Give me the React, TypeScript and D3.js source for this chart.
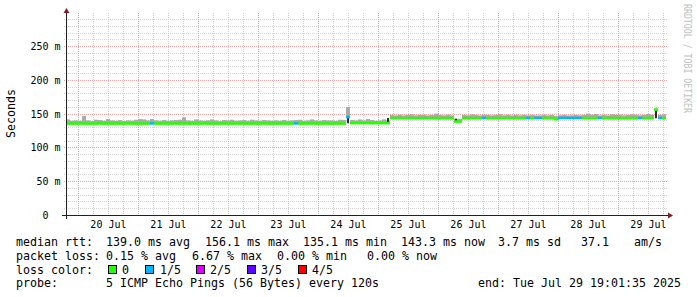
import React from 'react';
import * as d3 from 'd3';

// ---------- data ----------
const START = Date.UTC(2025, 6, 19, 19, 1, 35);
const END = Date.UTC(2025, 6, 29, 19, 1, 35);

// median rtt per time bucket (ms), 150 buckets over 10 days
const medianMs = [
  135.3,135.3,135.3,135.5,135.3,135.3,135.3,135.3,135.5,135.3,
  135.3,135.3,135.3,135.3,135.3,135.5,135.3,135.3,135.3,135.3,
  135.3,135.6,135.3,135.3,135.3,135.3,135.3,135.5,135.3,135.3,
  135.3,135.3,135.3,135.3,135.5,135.3,135.3,135.3,135.3,135.3,
  135.3,135.3,135.5,135.3,135.3,135.3,135.3,135.3,135.3,135.5,
  135.3,135.3,135.3,135.3,135.3,135.3,135.3,135.6,135.3,135.3,
  135.3,135.5,135.3,135.3,135.3,135.3,135.3,135.3,135.3,135.3,
  145.0,136.0,136.0,136.0,136.0,136.0,136.0,136.0,136.0,136.0,
  136.0,143.4,143.4,143.4,143.4,143.4,143.4,143.4,143.4,143.4,
  143.4,143.4,143.4,143.4,143.4,143.4,143.4,138.3,138.3,143.4,
  143.4,143.4,143.4,143.4,143.6,143.4,143.4,143.4,143.4,143.4,
  143.4,143.4,143.4,143.4,143.4,143.6,143.4,143.6,143.6,143.4,
  143.4,143.4,141.8,143.6,143.6,143.6,143.6,143.6,143.6,143.4,
  143.4,143.4,143.4,143.6,143.4,143.4,143.4,143.4,143.4,143.4,
  143.4,143.4,143.4,143.6,143.4,143.4,143.4,156.1,143.6,143.3,
];

// highest ping per bucket (ms) - the smoke
const smokeTopMs = [
  141.5,139.5,140,139.5,146.5,140,139,141,140.5,139.5,
  142,140,139.5,140.5,139,140,139.5,141,142,141.5,
  140,142,140,139.5,140.5,139.5,140,140.5,141,144.5,
  140,139.5,141.5,140,139.5,140,141.5,140,139,140.5,
  140,141,139.5,140,140.5,139.5,141,140,139.5,140.5,
  140,139.5,140,139.5,140.5,139.5,140,140.5,141,139.5,
  140,141.5,140,139.5,140.5,140,140,139.5,141,140.5,
  160,140.5,140,141.5,140,142,140.5,139.5,140,141.5,
  140,148,147.5,148.5,147.5,148,149,147.5,148,148.5,
  147.5,148,150,148,147.5,148.5,147.5,142,142.5,148,
  147.5,149,148,147.5,148.5,148,147.5,148,149,147.5,
  148,147.5,148.5,147.5,148,147.5,148,147.5,147.5,148.5,
  147.5,148,146.5,147.5,148,147.5,147.5,148,147.5,148,
  150,148.5,149.5,147.5,148,147.5,149,148,148.5,147.5,
  148,149,148.5,147.5,148,149.5,148,157,148,149,
];

// lost pings (of 5) per bucket
const lossCount = [
  0,0,0,0,0,0,0,0,0,0,
  0,0,0,0,0,0,0,0,0,0,
  0,1,0,0,0,0,0,0,0,0,
  0,0,0,0,0,0,0,0,0,0,
  0,0,0,0,0,0,0,0,0,0,
  0,0,0,0,0,0,0,1,0,0,
  0,0,0,0,0,0,0,0,0,0,
  1,0,0,0,0,0,0,0,0,0,
  0,0,0,0,0,0,0,0,0,0,
  0,0,0,0,0,0,0,0,0,0,
  0,0,0,0,1,0,0,0,0,0,
  0,0,0,0,0,1,0,1,1,0,
  0,0,0,1,1,1,1,1,1,0,
  0,0,0,1,0,0,0,0,0,0,
  0,0,0,1,0,0,0,0,1,0,
];

// dense (dark) smoke pieces: bucket, low ms, high ms
const darkBuckets = [70, 80, 97, 147];
const darkLowMs = [136.0, 136.0, 138.5, 143.2];
const darkHighMs = [145.0, 143.4, 142.5, 156.0];

const yTickValues = [0, 50, 100, 150, 200, 250];
const lossLabels = ['0', '1/5', '2/5', '3/5', '4/5'];
const lossColors = ['#26ff00', '#00b8ff', '#dd00ff', '#5e00ff', '#ff0000'];

const row1Texts = ['median rtt:', '139.0 ms avg', '156.1 ms max', '135.1 ms min', '143.3 ms now', '3.7 ms sd', '37.1', 'am/s'];
const row2Texts = ['packet loss:', '0.15 % avg', '6.67 % max', '0.00 % min', '0.00 % now'];
const row3Title = 'loss color:';
const row4Texts = ['probe:', '5 ICMP Echo Pings (56 Bytes) every 120s'];
const endText = 'end: Tue Jul 29 19:01:35 2025';

// ---------- layout ----------
const W = 697, H = 297;
const X0 = 66, XSIZE = 600, Y0 = 215, YSIZE = 200;
const Y_MAX_MS = 296;
const row1X = [16, 106, 205, 303, 401, 498, 581, 634];
const row2X = [16, 106, 192, 277, 367];
const row4X = [16, 106];
const boxX = [108.5, 145.5, 196.5, 247.5, 298.5];
const lossLabelX = [122, 160, 210, 261, 312];
const rowY = [245.7, 259.8, 273.5, 287.3];
const MONO = '"DejaVu Sans Mono", monospace';
const LEG_FS = 11.63;
const AX_FS = 10;

export default function App() {
  const x = d3.scaleUtc().domain([START, END]).range([X0, X0 + XSIZE]);
  const y = d3.scaleLinear().domain([0, Y_MAX_MS]).range([Y0, Y0 - YSIZE]);
  const n = medianMs.length;
  const bucketLen = (END - START) / n;
  const bx0 = (i: number) => x(START + i * bucketLen);
  const bx1 = (i: number) => x(START + (i + 1) * bucketLen);

  const top = Y0 - YSIZE;
  const minorH = d3.range(10, 300, 10).filter((v) => v % 50 !== 0 && y(v) >= top);
  const majorH = yTickValues.filter((v) => v !== 0);
  const sixHours = d3.utcHour.every(6)!.range(new Date(START), new Date(END));
  const noons = d3.utcDay
    .range(new Date(START), new Date(END))
    .map((d) => new Date(d.getTime() + 12 * 3600 * 1000))
    .filter((d) => d.getTime() < END);
  const fmt = d3.utcFormat('%d %b');
  const px = (v: number) => Math.round(v) + 0.5;

  return (
    <svg
      width={W}
      height={H}
      style={{ position: 'absolute', left: 0, top: 0, background: '#fff', display: 'block' }}
      fontFamily={MONO}
    >
      <rect x={0} y={0} width={W} height={H} fill="#ffffff" />
      {/* grid */}
      <g strokeWidth={1} strokeDasharray="1 1" fill="none">
        {minorH.map((v) => (
          <line key={'mh' + v} x1={X0 - 2} x2={X0 + XSIZE + 2} y1={px(y(v))} y2={px(y(v))} stroke="#d6d6d6" />
        ))}
        {sixHours
          .filter((d) => d.getUTCHours() !== 0)
          .map((d) => (
            <line key={'mv' + d.getTime()} x1={px(x(d))} x2={px(x(d))} y1={top - 2} y2={Y0 + 2} stroke="#cfcfcf" />
          ))}
        {majorH.map((v) => (
          <line key={'Mh' + v} x1={X0 - 2} x2={X0 + XSIZE + 2} y1={px(y(v))} y2={px(y(v))} stroke="#ee9f9f" />
        ))}
        {sixHours
          .filter((d) => d.getUTCHours() === 0)
          .map((d) => (
            <line key={'Mv' + d.getTime()} x1={px(x(d))} x2={px(x(d))} y1={top - 2} y2={Y0 + 2} stroke="#ee9f9f" />
          ))}
      </g>

      {/* smoke */}
      <g>
        {smokeTopMs.map((v, i) => (
          <rect
            key={'s' + i}
            x={bx0(i)}
            width={bx1(i) - bx0(i)}
            y={y(v)}
            height={Math.max(0, y(medianMs[i]) - y(v))}
            fill="#aaaaaa"
          />
        ))}
        {darkBuckets.map((b, k) => (
          <rect
            key={'d' + k}
            x={(bx0(b) + bx1(b)) / 2 - 1}
            width={2}
            y={y(darkHighMs[k])}
            height={y(darkLowMs[k]) - y(darkHighMs[k])}
            fill="#2a2a2a"
          />
        ))}
      </g>

      {/* median band coloured by loss */}
      <g>
        {medianMs.map((m, i) => (
          <rect
            key={'m' + i}
            x={bx0(i)}
            width={bx1(i) - bx0(i) + 0.05}
            y={y(m) - 1.3}
            height={2.6}
            fill={lossColors[lossCount[i]]}
          />
        ))}
      </g>

      {/* axes */}
      <line x1={X0 - 4} x2={X0 + XSIZE + 4} y1={Y0 + 0.5} y2={Y0 + 0.5} stroke="#202020" strokeWidth={1} />
      <line x1={X0 + 0.5} x2={X0 + 0.5} y1={Y0 + 4} y2={top - 4} stroke="#202020" strokeWidth={1} />
      <polygon
        points={`${X0 - 2.5},${top - 2} ${X0 + 3.5},${top - 2} ${X0 + 0.5},${top - 7}`}
        fill="#7f1f1f"
      />
      <polygon
        points={`${X0 + XSIZE + 2},${Y0 - 2.5} ${X0 + XSIZE + 2},${Y0 + 3.5} ${X0 + XSIZE + 7},${Y0 + 0.5}`}
        fill="#7f1f1f"
      />

      {/* y labels */}
      <g fontSize={AX_FS} fill="#000">
        {yTickValues.map((v) => (
          <text key={'yl' + v} x={v === 0 ? 48.5 : 60.5} y={px(y(v)) + 3.5} textAnchor="end" xmlSpace="preserve">
            {v === 0 ? '0' : `${v} m`}
          </text>
        ))}
        {noons.map((d) => (
          <text key={'xl' + d.getTime()} x={x(d)} y={228} textAnchor="middle">
            {fmt(d)}
          </text>
        ))}
      </g>

      {/* y title */}
      <text
        transform="translate(15,113.5) rotate(-90)"
        fontSize={LEG_FS}
        textAnchor="middle"
        fill="#000"
      >
        Seconds
      </text>

      {/* watermark */}
      <text
        transform="translate(684,4) rotate(90)"
        fontSize={10}
        textLength={109}
        lengthAdjust="spacingAndGlyphs"
        fill="#c2c2c2"
      >
        RRDTOOL / TOBI OETIKER
      </text>

      {/* legend */}
      <g fontSize={LEG_FS} fill="#000" style={{ whiteSpace: 'pre' }}>
        {row1Texts.map((t, i) => (
          <text key={'r1' + i} x={row1X[i]} y={rowY[0]}>
            {t}
          </text>
        ))}
        {row2Texts.map((t, i) => (
          <text key={'r2' + i} x={row2X[i]} y={rowY[1]}>
            {t}
          </text>
        ))}
        <text x={16} y={rowY[2]}>
          {row3Title}
        </text>
        {lossLabels.map((t, i) => (
          <g key={'lc' + i}>
            <rect x={boxX[i]} y={265.5} width={8} height={8} fill={lossColors[i]} stroke="#000" strokeWidth={1} />
            <text x={lossLabelX[i]} y={rowY[2]}>
              {t}
            </text>
          </g>
        ))}
        {row4Texts.map((t, i) => (
          <text key={'r4' + i} x={row4X[i]} y={rowY[3]}>
            {t}
          </text>
        ))}
        <text x={681} y={rowY[3]} textAnchor="end">
          {endText}
        </text>
      </g>
    </svg>
  );
}
